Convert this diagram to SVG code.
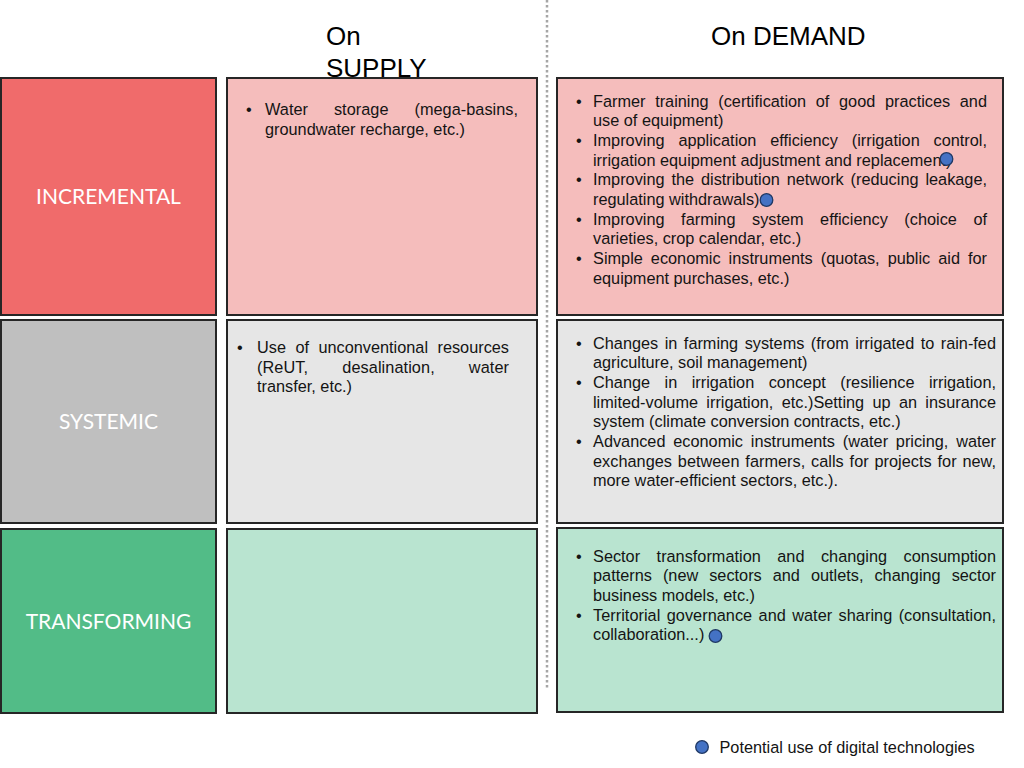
<svg xmlns="http://www.w3.org/2000/svg" width="1024" height="768" viewBox="0 0 1024 768">
  <style>
    .box { stroke: #262626; stroke-width: 2; }
    .inc-d { fill: #F06B6B; } .inc-l { fill: #F5BDBC; }
    .sys-d { fill: #BFBFBF; } .sys-l { fill: #E6E6E6; }
    .tra-d { fill: #52BC87; } .tra-l { fill: #B9E4D0; }
    .lbl { font-family: Lato, "Open Sans", sans-serif; font-size: 21px; fill: #FFFFFF; text-anchor: middle; }
    .hdr { font-family: "Liberation Sans", Arial, sans-serif; font-size: 26px; fill: #000000; }
    .t { font-family: "Liberation Sans", Arial, sans-serif; font-size: 16.3px; fill: #141414; }
    .dot { fill: #4472C4; stroke: #1F3864; stroke-width: 1.3; }
  </style>

  <g id="headers">
    <text class="hdr" x="326" y="45">On</text>
    <text class="hdr" x="326" y="77">SUPPLY</text>
    <text class="hdr" x="711" y="45">On DEMAND</text>
  </g>

  <g id="separator">
    <line x1="547" y1="0" x2="547" y2="688" stroke="#A6A6A6" stroke-width="2.5" stroke-dasharray="2.5 2.5"/>
  </g>

  <g id="connectors"/>

  <g id="incremental">
    <rect class="box inc-d" x="1" y="78" width="215" height="237"/>
    <text class="lbl" x="108.5" y="204">INCREMENTAL</text>
  </g>
  <g id="incremental-supply">
    <rect class="box inc-l" x="227" y="78" width="310" height="237"/>
    <text class="t" x="246" y="115">•</text>
    <text class="t" x="265" y="115" word-spacing="21.4" textLength="253" lengthAdjust="spacing">Water storage (mega-basins,</text>
    <text class="t" x="265" y="134.7">groundwater recharge, etc.)</text>
  </g>
  <g id="incremental-demand">
    <rect class="box inc-l" x="557" y="78" width="446" height="237"/>
    <text class="t" x="576" y="106.5">•</text>
    <text class="t" x="593" y="106.5" word-spacing="5.12" textLength="394" lengthAdjust="spacing">Farmer training (certification of good practices and</text>
    <text class="t" x="593" y="126.2">use of equipment)</text>
    <text class="t" x="576" y="145.9">•</text>
    <text class="t" x="593" y="145.9" word-spacing="9.27" textLength="394" lengthAdjust="spacing">Improving application efficiency (irrigation control,</text>
    <text class="t" x="593" y="165.6">irrigation equipment adjustment and replacement)</text>
    <text class="t" x="576" y="185.3">•</text>
    <text class="t" x="593" y="185.3" word-spacing="2.34" textLength="394" lengthAdjust="spacing">Improving the distribution network (reducing leakage,</text>
    <text class="t" x="593" y="205">regulating withdrawals)</text>
    <text class="t" x="576" y="224.7">•</text>
    <text class="t" x="593" y="224.7" word-spacing="11.95" textLength="394" lengthAdjust="spacing">Improving farming system efficiency (choice of</text>
    <text class="t" x="593" y="244.4">varieties, crop calendar, etc.)</text>
    <text class="t" x="576" y="264.1">•</text>
    <text class="t" x="593" y="264.1" word-spacing="3.47" textLength="394" lengthAdjust="spacing">Simple economic instruments (quotas, public aid for</text>
    <text class="t" x="593" y="283.8">equipment purchases, etc.)</text>
    <circle class="dot" cx="946.5" cy="159" r="6.3"/>
    <circle class="dot" cx="766.5" cy="200" r="6.3"/>
  </g>

  <g id="systemic">
    <rect class="box sys-d" x="1" y="320" width="215" height="203"/>
    <text class="lbl" x="108.5" y="429">SYSTEMIC</text>
  </g>
  <g id="systemic-supply">
    <rect class="box sys-l" x="227" y="320" width="310" height="203"/>
    <text class="t" x="237" y="353">•</text>
    <text class="t" x="257" y="353" word-spacing="4.87" textLength="252" lengthAdjust="spacing">Use of unconventional resources</text>
    <text class="t" x="257" y="372.7" word-spacing="29.5" textLength="252" lengthAdjust="spacing">(ReUT, desalination, water</text>
    <text class="t" x="257" y="392.4">transfer, etc.)</text>
  </g>
  <g id="systemic-demand">
    <rect class="box sys-l" x="557" y="320" width="446" height="203"/>
    <text class="t" x="576" y="348.5">•</text>
    <text class="t" x="593" y="348.5" word-spacing="1.93" textLength="403" lengthAdjust="spacing">Changes in farming systems (from irrigated to rain-fed</text>
    <text class="t" x="593" y="368.2">agriculture, soil management)</text>
    <text class="t" x="576" y="387.9">•</text>
    <text class="t" x="593" y="387.9" word-spacing="9.94" textLength="403" lengthAdjust="spacing">Change in irrigation concept (resilience irrigation,</text>
    <text class="t" x="593" y="407.6" word-spacing="3.79" textLength="403" lengthAdjust="spacing">limited-volume irrigation, etc.)Setting up an insurance</text>
    <text class="t" x="593" y="427.3">system (climate conversion contracts, etc.)</text>
    <text class="t" x="576" y="447">•</text>
    <text class="t" x="593" y="447" word-spacing="3.24" textLength="403" lengthAdjust="spacing">Advanced economic instruments (water pricing, water</text>
    <text class="t" x="593" y="466.7" word-spacing="1.28" textLength="403" lengthAdjust="spacing">exchanges between farmers, calls for projects for new,</text>
    <text class="t" x="593" y="486.4">more water-efficient sectors, etc.).</text>
  </g>

  <g id="transforming">
    <rect class="box tra-d" x="1" y="529" width="215" height="184"/>
    <text class="lbl" x="108.5" y="629">TRANSFORMING</text>
  </g>
  <g id="transforming-supply">
    <rect class="box tra-l" x="227" y="529" width="310" height="184"/>
  </g>
  <g id="transforming-demand">
    <rect class="box tra-l" x="557" y="528" width="446" height="184"/>
    <text class="t" x="576" y="561.5">•</text>
    <text class="t" x="593" y="561.5" word-spacing="11.97" textLength="403" lengthAdjust="spacing">Sector transformation and changing consumption</text>
    <text class="t" x="593" y="581.2" word-spacing="6.47" textLength="403" lengthAdjust="spacing">patterns (new sectors and outlets, changing sector</text>
    <text class="t" x="593" y="600.9">business models, etc.)</text>
    <text class="t" x="576" y="620.6">•</text>
    <text class="t" x="593" y="620.6" word-spacing="1.79" textLength="403" lengthAdjust="spacing">Territorial governance and water sharing (consultation,</text>
    <text class="t" x="593" y="640.3">collaboration...)</text>
    <circle class="dot" cx="715.5" cy="636" r="6.3"/>
  </g>

  <g id="legend">
    <circle class="dot" cx="702" cy="747" r="6.3"/>
    <text class="t" x="719.5" y="753">Potential use of digital technologies</text>
  </g>
</svg>
